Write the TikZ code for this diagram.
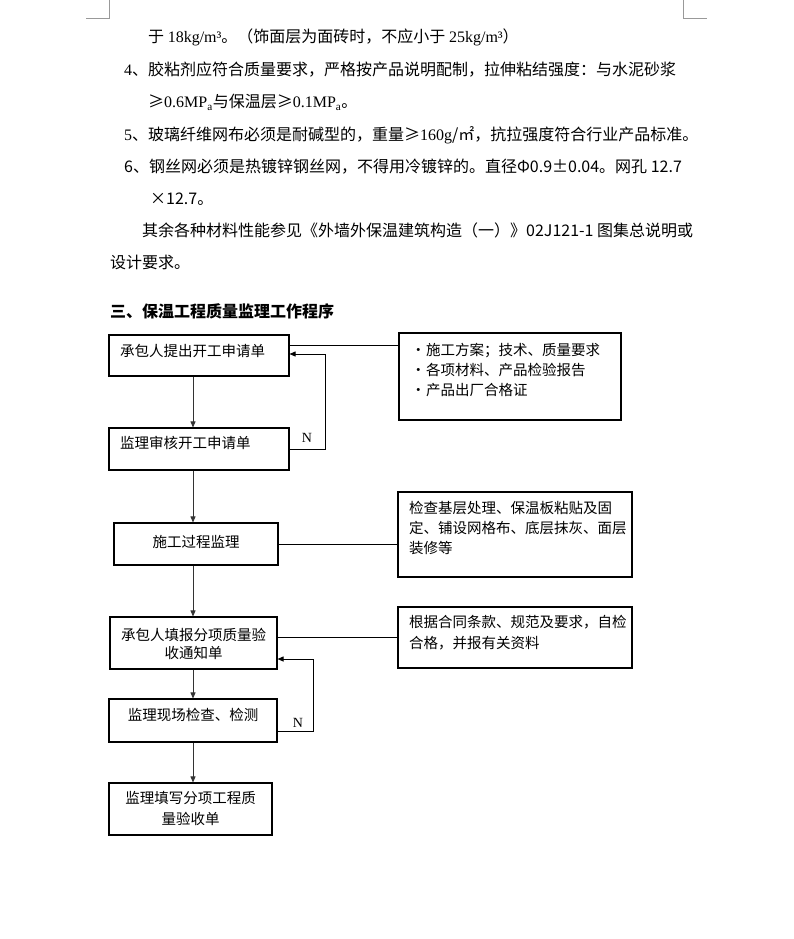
\documentclass[tikz,border=0pt]{standalone}
\usepackage{fontspec}
\setmainfont{Liberation Serif}
\newfontfamily\cjk{Noto Sans CJK SC}
\usetikzlibrary{arrows.meta}
\begin{document}
\begin{tikzpicture}[x=1pt,y=-1pt,
  box/.style={draw,line width=1.1pt,inner sep=0pt},
  arr/.style={line width=0.8pt,black!80,-{Triangle[length=6pt,width=5pt]}},
  conn/.style={line width=0.9pt},
  body/.style={anchor=base west,inner sep=0pt,font=\fontsize{16}{16}\selectfont\cjk},
  btxt/.style={anchor=base west,inner sep=0pt,font=\fontsize{14.5}{14}\selectfont\cjk},
  ctxt/.style={anchor=base,inner sep=0pt,font=\fontsize{14.5}{14}\selectfont\cjk},
  nlab/.style={anchor=base,inner sep=0pt,font=\fontsize{14}{14}\selectfont\rmfamily},
  corner/.style={line width=0.7pt,black!40}
]
\useasboundingbox (0,0) rectangle (794,939);
\fill[white] (0,0) rectangle (794,939);

% page corner marks
\draw[corner] (109,0) -- (109,18) -- (86,18);
\draw[corner] (683,0) -- (683,18) -- (707,18);

% body text
\node[body] (t1) at (148,43) {于 {\rmfamily 18kg/m³}。（饰面层为面砖时，不应小于 {\rmfamily 25kg/m³}）};
\node[body] (t2) at (124,76) {{\rmfamily 4}、胶粘剂应符合质量要求，严格按产品说明配制，拉伸粘结强度：与水泥砂浆};
\node[body] (t3) at (148,108) {≥{\rmfamily 0.6MP\textsubscript{a}}与保温层≥{\rmfamily 0.1MP\textsubscript{a}}。};
\node[body] (t4) at (124,140) {{\rmfamily 5}、玻璃纤维网布必须是耐碱型的，重量≥{\rmfamily 160g}/㎡，抗拉强度符合行业产品标准。};
\node[body] (t5) at (124,172) {6、钢丝网必须是热镀锌钢丝网，不得用冷镀锌的。直径Φ0.9±0.04。网孔 12.7};
\node[body] (t6) at (150,204) {×12.7。};
\node[body] (t7) at (142,236) {其余各种材料性能参见《外墙外保温建筑构造（一）》02J121-1 图集总说明或};
\node[body] (t8) at (110,268) {设计要求。};
\node[body,font=\fontsize{16}{16}\selectfont\cjk\bfseries] (title) at (110,317) {三、保温工程质量监理工作程序};

% flow boxes
\node[box,minimum width=180pt,minimum height=41pt] (b1) at (199,355.5) {};
\node[box,minimum width=180pt,minimum height=42pt] (b2) at (199,449) {};
\node[box,minimum width=164pt,minimum height=42pt] (b3) at (196,544) {};
\node[box,minimum width=167pt,minimum height=52pt] (b4) at (193.5,643) {};
\node[box,minimum width=168pt,minimum height=43pt] (b5) at (193,720.5) {};
\node[box,minimum width=163pt,minimum height=52pt] (b6) at (190.5,809) {};
\node[box,minimum width=222pt,minimum height=87pt] (r1) at (510,376.5) {};
\node[box,minimum width=234pt,minimum height=85pt] (r2) at (515,534.5) {};
\node[box,minimum width=234pt,minimum height=61pt] (r3) at (515,637.5) {};

% box texts
\node[btxt] (b1t) at (120,356) {承包人提出开工申请单};
\node[btxt] (b2t) at (120,448) {监理审核开工申请单};
\node[ctxt] (b3t) at (196,547) {施工过程监理};
\node[ctxt] (b4t1) at (193.5,640) {承包人填报分项质量验};
\node[ctxt] (b4t2) at (193.5,658) {收通知单};
\node[ctxt] (b5t) at (193,720) {监理现场检查、检测};
\node[ctxt] (b6t1) at (190.5,803) {监理填写分项工程质};
\node[ctxt] (b6t2) at (190.5,824) {量验收单};

\node[btxt] (r1t1) at (411,355) {·\hspace{0.5pt}施工方案；技术、质量要求};
\node[btxt] (r1t2) at (411,375) {·\hspace{0.5pt}各项材料、产品检验报告};
\node[btxt] (r1t3) at (411,395) {·\hspace{0.5pt}产品出厂合格证};
\node[btxt] (r2t1) at (409,513) {检查基层处理、保温板粘贴及固};
\node[btxt] (r2t2) at (409,533) {定、铺设网格布、底层抹灰、面层};
\node[btxt] (r2t3) at (409,553) {装修等};
\node[btxt] (r3t1) at (409,627) {根据合同条款、规范及要求，自检};
\node[btxt] (r3t2) at (409,648) {合格，并报有关资料};

\node[nlab] (n1) at (307,442) {N};
\node[nlab] (n2) at (298,727) {N};

% connectors
\coordinate (ax) at (193,0);
\draw[arr] (b1.south -| ax) -- (b2.north -| ax);
\draw[arr] (b2.south -| ax) -- (b3.north -| ax);
\draw[arr] (b3.south -| ax) -- (b4.north -| ax);
\draw[arr] (b4.south -| ax) -- (b5.north -| ax);
\draw[arr] (b5.south -| ax) -- (b6.north -| ax);

\draw[conn] ([yshift=10.5pt]b1.east) -- ([yshift=10.5pt]b1.east -| r1.west);
\draw[conn] (b3.east) -- (b3.east -| r2.west);
\draw[conn] ([yshift=6pt]b4.east) -- ([yshift=6pt]b4.east -| r3.west);

\draw[conn,-{Triangle[length=6pt,width=5pt]}] (b2.east) -- ++(36,0) |- ([yshift=1.5pt]b1.east);
\draw[conn,-{Triangle[length=6pt,width=5pt]}] ([yshift=-10.5pt]b5.east) -- ++(36,0) |- ([yshift=-16pt]b4.east);
\end{tikzpicture}
\end{document}
